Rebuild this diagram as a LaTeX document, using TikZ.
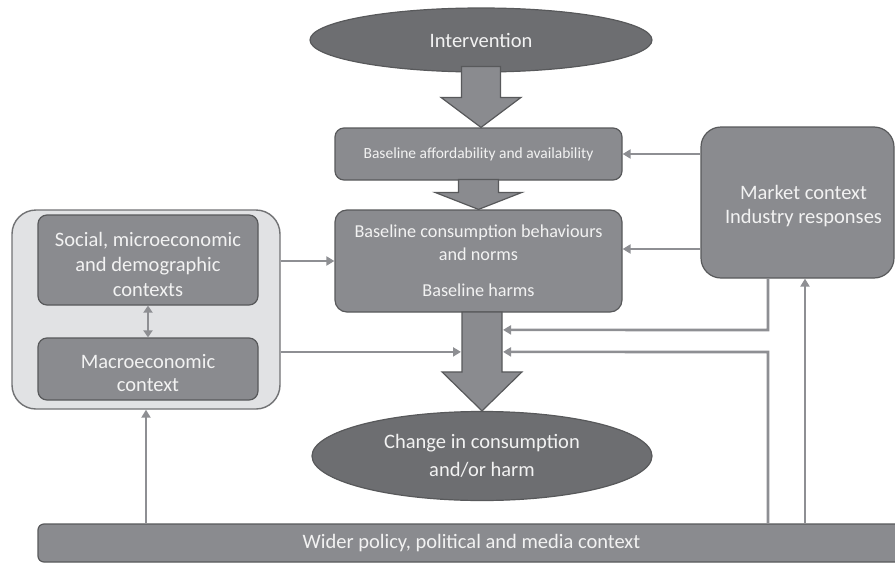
\documentclass[tikz,border=0pt]{standalone}
\usepackage{fontspec}
\setmainfont{Carlito}
\usetikzlibrary{arrows.meta,shapes.geometric,calc}
\definecolor{darkfill}{HTML}{6D6E71}
\definecolor{boxfill}{HTML}{8A8B8F}
\definecolor{edgec}{HTML}{58595B}
\definecolor{lightfill}{HTML}{E1E2E4}
\definecolor{linec}{HTML}{8E8F93}
\definecolor{txt}{HTML}{F2F2F2}
\begin{document}
\begin{tikzpicture}[x=1pt,y=-1pt,
  ell/.style={ellipse, draw=edgec, line width=1.2pt, fill=darkfill, text=txt, inner sep=0pt, align=center},
  box/.style={rectangle, rounded corners=9pt, draw=edgec, line width=1.2pt, fill=boxfill, text=txt, align=center, inner sep=0pt},
  boxlabel/.style={text=txt, align=center, inner sep=0pt},
  conn/.style={draw=linec, line width=2.6pt, -{Triangle[length=8pt,width=9pt]}},
  dconn/.style={draw=linec, line width=2.6pt, {Triangle[length=7pt,width=9pt]}-{Triangle[length=7pt,width=9pt]}},
  bigarrow/.style={fill=boxfill, draw=edgec, line width=1.2pt, line join=miter}]
\useasboundingbox (0,0) rectangle (895,565);

% nodes
\node[box, rounded corners=24pt, fill=lightfill, draw=edgec!85, line width=1.4pt, minimum width=268pt, minimum height=199pt] (outer) at (146,309.5) {};
\node[box, minimum width=220pt, minimum height=90pt,
  label={[boxlabel, font=\fontsize{20.5}{25}\selectfont, yshift=-4pt]center:{Social, microeconomic\\and demographic\\contexts}}] (social) at (148,260) {};
\node[box, minimum width=220pt, minimum height=62pt,
  label={[boxlabel, font=\fontsize{20.5}{23}\selectfont, yshift=-4pt]center:{Macroeconomic\\context}}] (macro) at (148,369) {};

\node[ell, minimum width=342pt, minimum height=64pt, font=\fontsize{20.5}{22}\selectfont] (int) at (481,40) {Intervention};
\node[box, minimum width=287pt, minimum height=52pt, font=\fontsize{15.5}{17}\selectfont] (aff) at (478.5,154) {Baseline affordability and availability};
\node[box, rounded corners=12pt, minimum width=287pt, minimum height=102pt, font=\fontsize{18.2}{23}\selectfont] (cons) at (478.5,261) {Baseline consumption behaviours\\and norms\\[13pt]Baseline harms};
\node[ell, minimum width=340pt, minimum height=89pt, font=\fontsize{20.5}{28}\selectfont] (change) at (482,456) {Change in consumption\\and/or harm};
\node[box, rounded corners=20pt, minimum width=193pt, minimum height=151pt,
  label={[boxlabel, font=\fontsize{20.5}{24}\selectfont, xshift=6pt, yshift=-4pt]center:{Market context\\Industry responses}}] (market) at (797.5,202.5) {};
\node[box, rounded corners=6pt, minimum width=867pt, minimum height=38pt, font=\fontsize{20.5}{22}\selectfont] (wider) at (471.5,543) {Wider policy, political and media context};

% big block arrows
\coordinate (tip1) at (int.south |- aff.north);
\draw[bigarrow] ($(tip1)+(-19.5,-61)$) -- ($(tip1)+(19.5,-61)$) -- ($(tip1)+(19.5,-30)$)
  -- ($(tip1)+(40,-30)$) -- (tip1) -- ($(tip1)+(-40,-30)$) -- ($(tip1)+(-19.5,-30)$) -- cycle;
\draw[bigarrow] ($(cons.north)+(-20,-30)$) -- ($(cons.north)+(20,-30)$) -- ($(cons.north)+(20,-17)$)
  -- ($(cons.north)+(43.5,-17)$) -- (cons.north) -- ($(cons.north)+(-43.5,-17)$) -- ($(cons.north)+(-20,-17)$) -- cycle;
\coordinate (tip3) at (change.north);
\draw[bigarrow] ($(tip3)+(-20,-99)$) -- ($(tip3)+(20,-99)$) -- ($(tip3)+(20,-39)$)
  -- ($(tip3)+(40,-39)$) -- (tip3) -- ($(tip3)+(-40,-39)$) -- ($(tip3)+(-20,-39)$) -- cycle;

\coordinate (shaftL) at ($(tip3)+(-21,-59)$);
\coordinate (shaftR1) at ($(tip3)+(21,-81)$);
\coordinate (shaftR2) at ($(tip3)+(21,-59)$);
\coordinate (mkdown) at (768,330);
\coordinate (wdup) at (768,352);
\coordinate (upx) at (805,0);

% connectors
\draw[conn] (market.west |- aff.east) -- (aff.east);
\draw[conn] (market.west |- 0,249) -- (cons.east |- 0,249);
\draw[conn] (outer.east |- cons.west) -- (cons.west);
\draw[conn] (outer.east |- shaftL) -- (shaftL);
\draw[dconn] (social.south) -- (macro.north);
\draw[conn] (mkdown |- market.south) -- (mkdown) -- (shaftR1);
\draw[conn] (wdup |- wider.north) -- (wdup) -- (shaftR2);
\draw[conn] (upx |- wider.north) -- (upx |- market.south);
\draw[conn] (outer.south |- wider.north) -- (outer.south);
\end{tikzpicture}
\end{document}
